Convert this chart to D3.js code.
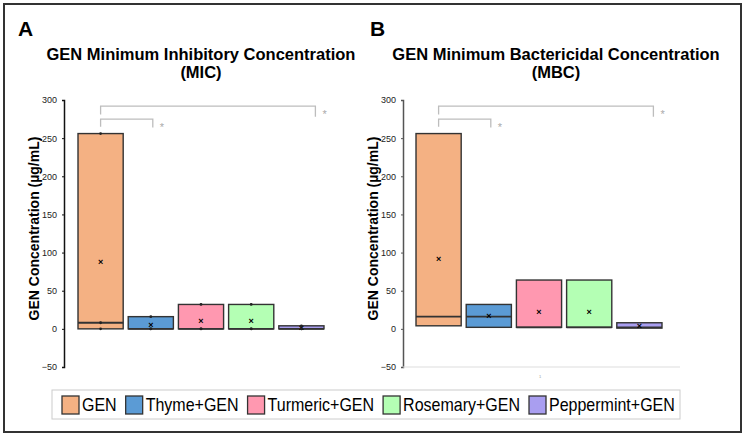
<!DOCTYPE html>
<html>
<head>
<meta charset="utf-8">
<script src="https://cdn.jsdelivr.net/npm/d3@7"></script>
<style>
  body { margin: 0; background: #fff; }
  svg { display: block; font-family: "Liberation Sans", Arial, sans-serif; }
</style>
</head>
<body>
<svg id="chart" width="745" height="437"></svg>
<script>
// groups and replicate values
const groups = ["GEN", "Thyme+GEN", "Turmeric+GEN", "Rosemary+GEN", "Peppermint+GEN"];
const colors = ["#F4B183", "#5B9BD5", "#FF98B0", "#B4FFB4", "#A99EF0"];
const micValues = [[256, 8, 0], [16, 0, 0], [32, 0, 0], [32, 0, 0], [4, 0, 0]];
const mbcValues = [[256, 16, 4], [32, 16, 2], [64, 2, 2], [64, 2, 2], [8, 2, 1]];
const yTicks = [-50, 0, 50, 100, 150, 200, 250, 300];

const W = 745, H = 437;
const svg = d3.select("#chart");

// outer frame
svg.append("rect")
  .attr("x", 4).attr("y", 4)
  .attr("width", W - 8).attr("height", H - 9)
  .attr("fill", "none")
  .attr("stroke", "#333")
  .attr("stroke-width", 2);

// Excel-style exclusive quartile
function quart(vals, p) {
  const s = vals.slice().sort((a, b) => a - b);
  const n = s.length;
  let pos = p * (n + 1);
  if (pos <= 1) return s[0];
  if (pos >= n) return s[n - 1];
  const lo = Math.floor(pos);
  return s[lo - 1] + (pos - lo) * (s[lo] - s[lo - 1]);
}

function drawPanel(opt) {
  const g = svg.append("g");
  const y = d3.scaleLinear().domain([-50, 300]).range([367, 100]);
  const x = d3.scaleBand().domain(groups).range([opt.x0, opt.x0 + 250]).paddingInner(0.1).paddingOuter(0.04);

  // panel letter
  g.append("text")
    .attr("x", opt.letterX).attr("y", 36)
    .style("font-size", "21px").style("font-weight", "bold")
    .text(opt.letter);

  // title
  opt.title.forEach((t, i) => {
    g.append("text")
      .attr("x", opt.titleX).attr("y", 60 + i * 18)
      .attr("text-anchor", "middle")
      .style("font-size", "16.5px").style("font-weight", "bold")
      .text(t);
  });

  // y axis
  const ax = g.append("g")
    .attr("transform", `translate(${opt.axisX},0)`)
    .call(d3.axisLeft(y).tickValues(yTicks).tickSize(2).tickPadding(5));
  ax.select(".domain").attr("stroke", opt.axisColor).attr("stroke-width", 1.5);
  ax.selectAll(".tick line").attr("stroke", opt.axisColor);
  ax.selectAll("text").style("font-size", "9px").attr("fill", "#222");

  // y title
  g.append("text")
    .attr("transform", `translate(${opt.axisX - 25},${(y(-50) + y(300)) / 2 - 5}) rotate(-90)`)
    .attr("text-anchor", "middle")
    .style("font-size", "14px").style("font-weight", "bold")
    .text("GEN Concentration (\u00b5g/mL)");

  if (opt.baseline) {
    g.append("line")
      .attr("x1", opt.axisX).attr("x2", opt.axisX + 277)
      .attr("y1", y(-50)).attr("y2", y(-50))
      .attr("stroke", "#ddd").attr("stroke-width", 1);
    g.append("text")
      .attr("x", opt.axisX + 137).attr("y", y(-50) + 11)
      .attr("text-anchor", "middle")
      .style("font-size", "4px").attr("fill", "#999")
      .text("1");
  }

  const stats = opt.values.map((v, i) => ({
    name: groups[i],
    color: colors[i],
    vals: v,
    q1: quart(v, 0.25),
    q3: quart(v, 0.75),
    med: quart(v, 0.5),
    mean: d3.mean(v)
  }));

  const boxes = g.selectAll(".box").data(stats).join("g").attr("class", "box");

  boxes.append("rect")
    .attr("x", d => x(d.name))
    .attr("y", d => y(d.q3))
    .attr("width", x.bandwidth())
    .attr("height", d => Math.max(1, y(d.q1) - y(d.q3)))
    .attr("fill", d => d.color)
    .attr("stroke", "#333")
    .attr("stroke-width", 1.4);

  boxes.append("line")
    .attr("x1", d => x(d.name))
    .attr("x2", d => x(d.name) + x.bandwidth())
    .attr("y1", d => y(d.med))
    .attr("y2", d => y(d.med))
    .attr("stroke", "#333")
    .attr("stroke-width", 1.8);

  // mean markers
  boxes.append("text")
    .attr("x", d => x(d.name) + x.bandwidth() / 2)
    .attr("y", d => y(d.mean) + 3)
    .attr("text-anchor", "middle")
    .style("font-size", "9px").style("font-weight", "bold")
    .text("\u00d7");

  if (opt.points) {
    boxes.selectAll("circle")
      .data(d => d.vals.map(v => ({ v, name: d.name })))
      .join("circle")
      .attr("cx", d => x(d.name) + x.bandwidth() / 2)
      .attr("cy", d => y(d.v))
      .attr("r", 1.4)
      .attr("fill", "#222");
  }

  // significance brackets
  const cx = n => x(n) + x.bandwidth() / 2;
  const br = g.append("g").attr("fill", "none").attr("stroke", "#bdbdbd").attr("stroke-width", 1.3);
  const longL = cx(groups[0]), longR = cx(groups[4]) + 14;
  br.append("path").attr("d", `M${longL},${y(281)}V${y(292)}H${longR}V${y(278)}`);
  const shortL = cx(groups[0]), shortR = cx(groups[1]) + 2;
  br.append("path").attr("d", `M${shortL},${y(265)}V${y(275)}H${shortR}V${y(264)}`);
  g.append("text").attr("x", longR + 7).attr("y", y(283) + 5)
    .attr("fill", "#aaa").style("font-size", "11px").text("*");
  g.append("text").attr("x", shortR + 7).attr("y", y(266) + 5)
    .attr("fill", "#aaa").style("font-size", "11px").text("*");
}

drawPanel({
  letter: "A", letterX: 18,
  title: ["GEN Minimum Inhibitory Concentration", "(MIC)"], titleX: 201,
  axisX: 64, x0: 76, values: micValues, points: true, axisColor: "#111", baseline: false
});
drawPanel({
  letter: "B", letterX: 370,
  title: ["GEN Minimum Bactericidal Concentration", "(MBC)"], titleX: 556,
  axisX: 403, x0: 414, values: mbcValues, points: false, axisColor: "#555", baseline: true
});

// legend (text squeezed horizontally to mimic a narrow font)
const lg = svg.append("g");
lg.append("rect")
  .attr("x", 52).attr("y", 390).attr("width", 628).attr("height", 29)
  .attr("fill", "#fff").attr("stroke", "#ccc").attr("stroke-width", 1);
const squeeze = 0.89;
let lx = 62;
groups.forEach((name, i) => {
  lg.append("rect")
    .attr("x", lx).attr("y", 396).attr("width", 17).attr("height", 18)
    .attr("fill", colors[i]).attr("stroke", "#333").attr("stroke-width", 1.3);
  const t = lg.append("text")
    .attr("transform", `translate(${lx + 20},411) scale(${squeeze},1)`)
    .style("font-size", "18px")
    .text(name);
  lx += 20 + t.node().getComputedTextLength() * squeeze + 9;
});
</script>
</body>
</html>
